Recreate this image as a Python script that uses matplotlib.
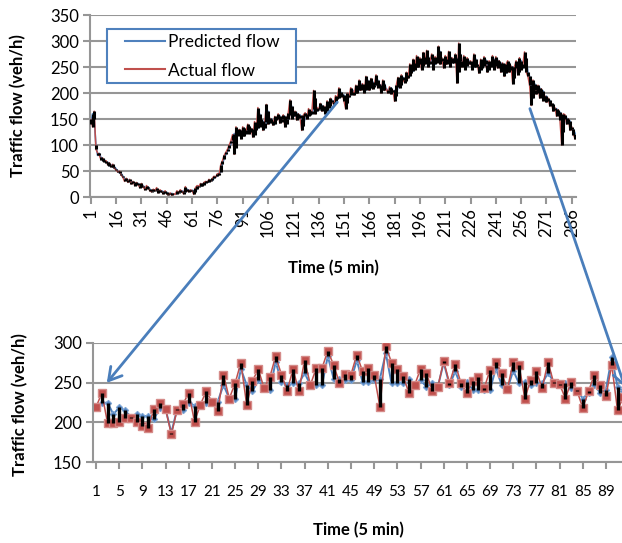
import matplotlib.pyplot as plt
from matplotlib.patches import FancyArrowPatch, Rectangle

plt.rcParams['font.family'] = ['Lato', 'DejaVu Sans']

BLUE = '#4F81BD'
RED = '#C0504D'
GRID = '#969696'

# whole day, 5-min steps (288 values)
actual_day = [
    150, 135, 165, 92, 85, 80, 72, 75, 68, 70, 62, 66, 58, 63, 55,
    52, 48, 50, 42, 38, 30, 36, 28, 34, 25, 30, 22, 28, 24, 18,
    26, 20, 14, 22, 17, 12, 10, 15, 12, 18, 8, 14, 10, 6, 12,
    6, 4, 8, 3, 6, 5, 12, 8, 14, 10, 6, 20, 12, 10, 14,
    12, 5, 18, 22, 20, 26, 22, 28, 30, 28, 34, 30, 36, 40, 38,
    45, 42, 62, 70, 80, 86, 92, 100, 108, 120, 82, 135, 118, 130, 112,
    135, 118, 128, 140, 122, 132, 115, 145, 128, 172, 135, 150, 128, 142, 178,
    140, 152, 145, 138, 155, 148, 160, 142, 150, 158, 135, 150, 162, 187, 150,
    155, 165, 148, 160, 152, 128, 158, 162, 150, 170, 158, 165, 205, 160, 172,
    168, 180, 165, 175, 160, 185, 172, 190, 182, 178, 195, 188, 210, 192, 198,
    185, 170, 200, 192, 210, 205, 196, 215, 200, 225, 205, 218, 200, 232, 212,
    205, 228, 208, 215, 235, 210, 218, 200, 225, 205, 208, 200, 212, 198, 205,
    184, 215, 230, 210, 235, 225, 220, 240, 228, 256, 238, 265, 245, 272, 250,
    268, 245, 278, 255, 282, 250, 262, 275, 245, 270, 258, 290, 255, 268, 248,
    272, 255, 280, 250, 268, 258, 275, 219, 296, 262, 250, 272, 245, 268, 255,
    262, 245, 275, 250, 255, 238, 265, 248, 270, 255, 240, 262, 250, 272, 245,
    270, 248, 262, 240, 258, 232, 255, 262, 240, 252, 218, 250, 262, 235, 268,
    245, 255, 279, 240, 232, 215, 176, 225, 205, 198, 215, 190, 208, 185, 195,
    182, 190, 175, 180, 165, 172, 155, 168, 148, 100, 160, 158, 140, 150, 128,
    135, 120, 112,
]
predicted_day = [
    140, 160, 150, 100, 80, 84, 76, 70, 72, 66, 67, 60, 62, 58, 58,
    54, 50, 46, 45, 40, 35, 32, 33, 30, 29, 27, 26, 25, 26, 22,
    20, 22, 18, 16, 19, 15, 12, 12, 14, 13, 13, 10, 12, 10, 8,
    9, 6, 5, 7, 5, 6, 6, 10, 10, 12, 10, 9, 15, 13, 11,
    13, 12, 10, 16, 21, 21, 25, 24, 27, 30, 29, 32, 32, 36, 39,
    40, 46, 48, 64, 74, 82, 88, 95, 103, 110, 122, 95, 128, 120, 128,
    118, 132, 122, 128, 136, 125, 130, 120, 140, 132, 160, 138, 146, 132, 145,
    165, 142, 150, 146, 140, 152, 150, 156, 145, 150, 155, 140, 150, 158, 175,
    155, 156, 162, 152, 158, 150, 136, 155, 160, 155, 165, 160, 170, 190, 165,
    170, 170, 176, 168, 172, 165, 180, 175, 186, 182, 180, 192, 190, 202, 195,
    196, 190, 180, 196, 196, 206, 202, 200, 210, 205, 218, 208, 214, 205, 225,
    215, 210, 222, 212, 215, 225, 214, 216, 206, 218, 208, 206, 205, 210, 202,
    205, 195, 212, 225, 215, 230, 225, 224, 235, 232, 248, 242, 258, 250, 265,
    255, 262, 252, 270, 262, 270, 256, 265, 268, 255, 265, 262, 280, 262, 262,
    255, 265, 262, 270, 258, 265, 260, 268, 240, 275, 262, 255, 265, 252, 262,
    256, 258, 250, 266, 252, 252, 244, 258, 252, 264, 254, 245, 258, 252, 265,
    252, 264, 250, 258, 244, 255, 238, 252, 258, 244, 250, 228, 248, 258, 240,
    262, 248, 252, 268, 240, 232, 215, 190, 218, 206, 200, 210, 194, 204, 188,
    194, 184, 186, 176, 178, 168, 170, 158, 163, 150, 125, 150, 152, 143, 146,
    130, 130, 122,
]

# zoomed segment
actual_zoom = [
    219, 237, 199, 199, 201, 205, 205, 201, 196, 193,
    217, 225, 217, 185, 216, 223, 237, 201, 222, 239,
    226, 214, 260, 230, 249, 275, 222, 252, 267, 243,
    257, 283, 260, 240, 267, 239, 278, 247, 268, 268,
    290, 272, 250, 261, 260, 285, 264, 268, 260, 219,
    296, 275, 267, 258, 237, 247, 267, 262, 240, 245,
    277, 249, 273, 249, 237, 252, 257, 243, 266, 276,
    262, 242, 276, 272, 230, 253, 264, 243, 276, 249,
    248, 230, 251, 240, 218, 239, 260, 247, 233, 272,
    215, 232,
]
predicted_zoom = [
    219, 224, 225, 210, 219, 215, 207, 210, 208, 208,
    204, 218, 217, 187, 217, 216, 225, 221, 222, 225,
    226, 226, 247, 230, 230, 267, 247, 239, 253, 243,
    241, 276, 251, 247, 249, 249, 262, 247, 247, 247,
    283, 255, 254, 253, 253, 278, 251, 251, 253, 255,
    287, 249, 250, 250, 255, 247, 253, 245, 249, 245,
    275, 247, 264, 245, 251, 241, 241, 241, 241, 268,
    247, 242, 265, 249, 251, 247, 249, 249, 262, 251,
    247, 249, 243, 241, 230, 237, 247, 237, 241, 282,
    245, 239,
]

day_ticks = list(range(1, 289, 15))
zoom_ticks = list(range(1, 92, 4))

W, H = 622, 543


def px(x0, y0, x1, y1):
    # pixel box (top-left origin) -> figure fraction rect
    return [x0 / W, (H - y1) / H, (x1 - x0) / W, (y1 - y0) / H]


def excel_style(ax):
    ax.set_axisbelow(True)
    ax.yaxis.grid(True, color=GRID, lw=1.5)
    for s in ['top', 'right']:
        ax.spines[s].set_visible(False)
    for s in ['left', 'bottom']:
        ax.spines[s].set_color(GRID)
        ax.spines[s].set_linewidth(1.5)
    ax.tick_params(direction='out', length=5, width=1.5, color=GRID,
                   labelsize=12, pad=3)


fig = plt.figure(figsize=(W / 100, H / 100), dpi=100)

# top chart: full day
top = fig.add_axes(px(90, 15, 576, 197))
x_day = list(range(1, len(actual_day) + 1))
top.plot(x_day, predicted_day, color=BLUE, lw=1.2, label='Predicted flow')
top.plot(x_day, actual_day, color=RED, lw=1.1, label='Actual flow')
lo = [min(a, p) for a, p in zip(actual_day, predicted_day)]
hi = [max(a, p) for a, p in zip(actual_day, predicted_day)]
top.vlines(x_day, lo, hi, color='black', lw=2.2, zorder=3)
top.set_xlim(0.5, 288.5)
top.set_ylim(0, 350)
top.set_yticks(range(0, 351, 50))
top.set_xticks(day_ticks)
top.set_xticklabels([str(t) for t in day_ticks], rotation=90)
excel_style(top)

# legend: entries without frame, Excel-like box drawn separately
top.add_patch(Rectangle((107 / W, 1 - 83 / H), 189 / W, 54 / H,
                        transform=fig.transFigure, fc='white', ec=BLUE,
                        lw=1.5, zorder=4, clip_on=False))
leg = top.legend(loc='upper left', bbox_to_anchor=((125 - 90) / 486, (197 - 34) / 182),
                 borderaxespad=0, borderpad=0, frameon=False, fontsize=12.5,
                 handlelength=2.3, handletextpad=0.15, labelspacing=0.72)
leg.set_zorder(5)
for line in leg.get_lines():
    line.set_linewidth(1.5)

# bottom chart: zoomed segment (cut off at the right edge)
bot = fig.add_axes(px(93, 342.7, 622, 462.3))
x_zoom = list(range(1, len(actual_zoom) + 1))
bot.plot(x_zoom, predicted_zoom, color=BLUE, lw=1.4, marker='D', ms=3.2,
         mfc=BLUE, mec='#7FA6D6', mew=0.8)
bot.plot(x_zoom, actual_zoom, color=RED, lw=1.1, marker='s', ms=6.3,
         mfc=RED, mec='#D58B89', mew=1.0)
lo = [min(a, p) for a, p in zip(actual_zoom, predicted_zoom)]
hi = [max(a, p) for a, p in zip(actual_zoom, predicted_zoom)]
bot.vlines(x_zoom, lo, hi, color='black', lw=2.4, zorder=3)
bot.set_xlim(0.48, 91.77)
bot.set_ylim(150, 300)
bot.set_yticks(range(150, 301, 50))
bot.set_xticks(zoom_ticks)
bot.set_xticklabels([str(t) for t in zoom_ticks])
excel_style(bot)
bot.tick_params(axis='x', labelsize=11, pad=11)

# axis titles
bold = dict(fontsize=12, fontweight='bold')
fig.text(18 / W, 1 - 106 / H, 'Traffic flow (veh/h)', rotation=90,
         ha='center', va='center', **bold)
fig.text(333 / W, 1 - 268 / H, 'Time (5 min)', ha='center', va='center', **bold)
fig.text(20 / W, 1 - 405 / H, 'Traffic flow (veh/h)', rotation=90,
         ha='center', va='center', **bold)
fig.text(358 / W, 1 - 530 / H, 'Time (5 min)', ha='center', va='center', **bold)

# zoom arrows
for start, end in [((339, 100), (105, 385)), ((529, 106), (626, 390))]:
    arr = FancyArrowPatch((start[0] / W, 1 - start[1] / H),
                          (end[0] / W, 1 - end[1] / H),
                          transform=fig.transFigure,
                          arrowstyle='->,head_length=0.6,head_width=0.35',
                          mutation_scale=15, color='#4A7EBB', lw=2)
    fig.add_artist(arr)

fig.savefig('out.png', dpi=100)
